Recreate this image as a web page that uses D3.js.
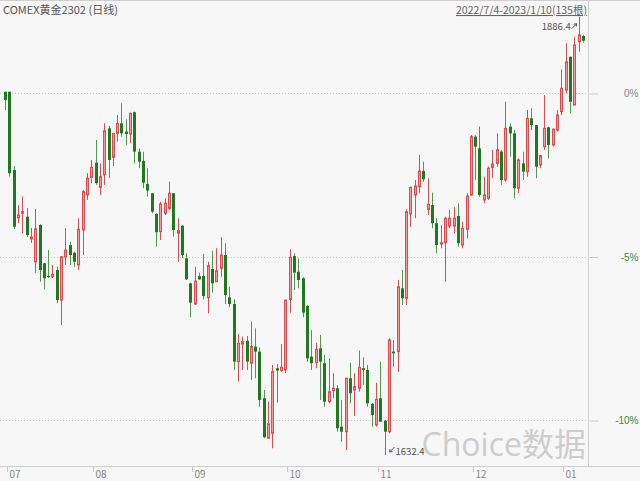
<!DOCTYPE html>
<html><head><meta charset="utf-8">
<script src="https://cdn.jsdelivr.net/npm/d3@7"></script>
<style>
body{margin:0;background:#f7f7f7;}
svg{display:block;font-family:"Noto Sans CJK SC","Noto Sans",sans-serif;}
</style>
</head><body><svg id="c" width="640" height="481"></svg>
<script>
const title = "COMEX黄金2302 (日线)";
const rangeText = "2022/7/4-2023/1/10(135根)";
const opens = [
1842.9,1842.9,1797.6,1769.8,1772.5,1770.5,1757.6,1744.3,1765.7,1743.5,
1736.1,1735.7,1739.6,1722.2,1747.3,1754.1,1749.6,1742.5,1762.8,1783.1,
1793.3,1801.8,1787.5,1794.7,1821.7,1804.9,1818.8,1824.6,1819.8,1818.4,
1831.0,1808.2,1802.8,1789.5,1784.1,1772.1,1761.8,1772.5,1775.4,1784.1,
1760.9,1765.3,1746.4,1731.9,1719.9,1736.1,1736.1,1723.6,1740.2,1732.8,
1740.6,1748.3,1723.8,1719.9,1686.5,1696.7,1698.6,1685.6,1695.2,1692.3,
1665.3,1642.1,1645.0,1682.7,1681.3,1681.7,1722.6,1747.7,1738.6,1734.8,
1718.8,1689.4,1685.9,1694.2,1685.6,1663.3,1669.7,1671.1,1648.8,1645.9,
1676.9,1670.1,1671.1,1682.7,1681.7,1662.0,1649.8,1665.3,1652.3,1645.9,
1692.3,1692.3,1729.0,1723.2,1772.1,1783.1,1787.9,1797.0,1774.8,1777.3,
1766.7,1754.7,1755.4,1765.1,1765.1,1770.9,1754.1,1763.2,1783.1,1816.9,
1810.1,1780.2,1781.2,1799.1,1801.4,1808.2,1791.8,1822.7,1818.8,1787.0,
1801.4,1796.6,1827.5,1823.6,1800.5,1811.1,1822.3,1812.1,1820.7,1831.4,
1843.9,1863.2,1835.2,1871.9,1875.2];
const highs = [
1842.9,1842.9,1799.9,1777.3,1782.1,1775.5,1764.0,1775.0,1766.1,1743.8,
1751.2,1742.5,1741.5,1747.3,1763.8,1756.0,1750.2,1769.6,1786.0,1795.7,
1803.4,1815.0,1801.4,1824.6,1823.1,1818.8,1829.4,1836.2,1826.9,1830.8,
1831.4,1810.1,1808.2,1798.6,1784.1,1772.5,1779.2,1781.2,1790.8,1784.1,
1769.6,1765.7,1749.3,1732.3,1741.5,1738.1,1748.9,1744.4,1750.8,1752.2,
1758.6,1755.1,1729.9,1722.6,1702.5,1701.0,1701.4,1709.7,1705.8,1694.8,
1670.1,1663.3,1684.6,1685.1,1696.7,1722.2,1751.6,1749.3,1746.4,1735.4,
1719.3,1704.8,1697.5,1702.0,1690.4,1688.4,1679.8,1673.0,1664.3,1676.9,
1685.9,1679.8,1692.9,1689.0,1684.6,1662.4,1674.3,1686.5,1652.7,1700.0,
1699.1,1733.8,1739.6,1774.8,1787.9,1791.8,1806.3,1802.4,1792.8,1784.4,
1769.6,1765.7,1770.5,1774.4,1776.0,1778.3,1767.6,1784.1,1817.8,1817.8,
1822.7,1793.7,1799.5,1809.2,1818.8,1809.2,1837.1,1824.6,1820.7,1804.3,
1808.2,1832.3,1833.3,1823.6,1806.3,1841.0,1822.7,1821.7,1832.3,1855.9,
1871.0,1863.2,1874.8,1886.4,1875.8];
const lows = [
1832.3,1793.7,1763.4,1766.9,1760.9,1758.7,1755.3,1737.9,1732.8,1728.4,
1735.0,1735.0,1720.3,1707.7,1742.5,1742.5,1741.5,1739.6,1748.3,1780.2,
1789.9,1788.9,1783.1,1788.9,1792.9,1799.9,1814.0,1816.9,1812.1,1813.0,
1801.4,1798.6,1787.0,1782.1,1772.5,1753.1,1757.0,1771.5,1774.4,1758.9,
1744.4,1746.4,1733.8,1712.2,1719.3,1733.8,1722.6,1714.5,1726.5,1732.8,
1735.7,1719.9,1718.0,1681.7,1674.9,1681.7,1681.7,1675.9,1676.9,1660.4,
1642.1,1642.1,1636.3,1662.7,1680.7,1679.8,1714.9,1728.0,1729.0,1712.2,
1686.5,1681.7,1682.7,1664.3,1660.4,1662.4,1665.3,1645.9,1640.1,1635.3,
1662.4,1655.0,1669.1,1673.0,1660.4,1648.8,1648.8,1651.7,1632.4,1645.0,
1683.6,1680.7,1719.3,1719.3,1764.7,1769.6,1784.1,1790.8,1771.5,1763.8,
1749.3,1752.2,1732.8,1763.8,1760.9,1753.1,1752.2,1758.0,1782.5,1791.8,
1782.1,1778.3,1780.2,1792.8,1799.5,1788.9,1790.8,1805.3,1781.2,1784.1,
1791.8,1793.7,1820.7,1792.8,1798.6,1809.2,1804.3,1811.1,1819.8,1829.4,
1842.0,1830.4,1835.2,1866.1,1871.3];
const closes = [
1838.1,1795.7,1764.7,1771.5,1773.4,1759.9,1758.7,1763.4,1739.6,1734.8,
1735.6,1737.1,1722.2,1747.3,1751.2,1748.3,1744.4,1763.2,1785.0,1792.8,
1799.1,1789.9,1793.7,1820.3,1803.4,1818.8,1824.6,1818.8,1818.4,1830.4,
1808.2,1802.4,1790.2,1785.6,1773.4,1761.5,1777.9,1778.3,1784.1,1762.8,
1762.4,1748.3,1734.2,1720.7,1733.2,1734.2,1724.5,1742.1,1731.9,1739.2,
1748.3,1725.1,1719.9,1686.5,1697.1,1698.1,1686.5,1695.2,1692.3,1664.3,
1642.7,1650.4,1680.7,1681.3,1683.2,1722.2,1747.0,1738.1,1733.8,1714.9,
1688.4,1685.6,1693.7,1686.5,1663.3,1669.1,1671.1,1647.9,1645.9,1676.9,
1668.2,1672.0,1683.2,1681.7,1662.4,1655.6,1664.7,1651.7,1645.9,1699.1,
1691.3,1729.9,1723.2,1773.4,1787.5,1788.3,1797.0,1792.2,1777.7,1766.7,
1754.1,1755.4,1769.6,1769.6,1769.6,1755.1,1763.8,1782.5,1816.9,1811.1,
1783.1,1783.1,1798.6,1801.0,1809.2,1791.8,1821.7,1818.8,1787.0,1803.4,
1796.6,1827.5,1823.6,1799.5,1805.9,1821.7,1812.1,1821.2,1829.4,1844.9,
1860.3,1837.1,1870.0,1875.8,1872.5];
const monthLabels = ["07","08","09","10","11","12","01"];
const monthStarts = [0,20,43,65,86,108,129];
const pctTicks = [0,-5,-10];
const watermark = "Choice数据";

const W = 640, H = 481;
const svg = d3.select("#c");
const RED = "#e8474c", REDFILL = "#f39a9a", GREEN = "#1f7a1f", GREENWICK = "#4f9a4f";

const data = opens.map((o,i)=>({i, o, h:highs[i], l:lows[i], c:closes[i]}));
const x = d3.scaleLinear().domain([0, data.length-1]).range([5, 583]);
const maxP = d3.max(highs), minP = d3.min(lows);
const y = d3.scaleLinear().domain([minP, maxP]).range([455, 16.7]);
const yPct = d3.scaleLinear().domain([0, -10]).range([93, 420]);

svg.append("rect").attr("width",W).attr("height",H).attr("fill","#f7f7f7");

// frame lines
svg.append("line").attr("x1",0).attr("x2",W).attr("y1",0.5).attr("y2",0.5).attr("stroke","#cfcfcf");
svg.append("line").attr("x1",588.5).attr("x2",588.5).attr("y1",0).attr("y2",466).attr("stroke","#cfcfcf");

// grid lines + right axis
const g = svg.append("g");
pctTicks.forEach(p=>{
  const yy = Math.round(yPct(p))+0.5;
  g.append("line").attr("x1",0).attr("x2",588).attr("y1",yy).attr("y2",yy)
    .attr("stroke","#c8c8c8").attr("stroke-dasharray","1,2");
});
const rAxis = d3.axisRight(yPct).tickValues(pctTicks).tickSize(9).tickPadding(18)
  .tickFormat(d=>d+"%");
const ra = svg.append("g").attr("transform","translate(589.5,0.5)").call(rAxis);
ra.select(".domain").remove();
ra.selectAll(".tick line").attr("stroke","#c8c8c8");
ra.selectAll(".tick text").attr("font-size",10).attr("text-anchor","end").attr("x",49)
  .attr("fill",d=>d<0?"#3d8a3d":"#888");

// watermark (drawn behind the axis labels)
svg.append("text").attr("x",586).attr("y",456).attr("text-anchor","end")
  .attr("font-size",32).attr("fill","#cdcdcd").attr("font-family","'Open Sans','Noto Sans CJK SC',sans-serif")
  .text(watermark);

// bottom axis
svg.append("line").attr("x1",0).attr("x2",W).attr("y1",466.5).attr("y2",466.5).attr("stroke","#cfcfcf");
const xt = svg.append("g");
monthStarts.forEach((s,k)=>{
  const xx = Math.round(x(s)+2)+0.5;
  xt.append("line").attr("x1",xx).attr("x2",xx).attr("y1",467).attr("y2",472).attr("stroke","#c8c8c8");
  xt.append("text").attr("x",xx+2).attr("y",478).attr("font-size",10).attr("fill","#888").text(monthLabels[k]);
});

// candles
const cg = svg.append("g");
const bw = 3;
data.forEach(d=>{
  const up = d.c >= d.o;
  const cx = Math.round(x(d.i));
  cg.append("line").attr("x1",cx+0.5).attr("x2",cx+0.5).attr("y1",y(d.h)).attr("y2",y(d.l))
    .attr("stroke", up?RED:GREENWICK).attr("stroke-width",1);
  const top = y(Math.max(d.o,d.c)), bot = y(Math.min(d.o,d.c));
  const hh = Math.max(1, bot-top);
  if (up) {
    cg.append("rect").attr("x",cx-1+0.5).attr("y",top).attr("width",bw-1).attr("height",hh)
      .attr("fill",REDFILL).attr("stroke",RED).attr("stroke-width",1);
  } else {
    cg.append("rect").attr("x",cx-1).attr("y",top).attr("width",bw).attr("height",hh)
      .attr("fill",GREEN);
  }
});

// high / low annotations
const hiI = highs.indexOf(maxP), loI = lows.indexOf(minP);
const hx = x(hiI), hy = y(maxP);
svg.append("text").attr("x",hx-8).attr("y",hy+13).attr("text-anchor","end")
  .attr("font-size",9.5).attr("fill","#555").text(maxP.toFixed(1));
svg.append("path").attr("d",`M${hx-7},${hy+12} L${hx-2},${hy+7}`).attr("stroke","#555").attr("fill","none");
svg.append("path").attr("d",`M${hx-2},${hy+7} l-3,0.5 M${hx-2},${hy+7} l-0.5,3`).attr("stroke","#555").attr("fill","none");
const lx = x(loI), ly = y(minP);
svg.append("path").attr("d",`M${lx+10},${ly-8} L${lx+5},${ly-3}`).attr("stroke","#555").attr("fill","none");
svg.append("path").attr("d",`M${lx+5},${ly-3} l3,-0.5 M${lx+5},${ly-3} l0.5,-3`).attr("stroke","#555").attr("fill","none");
svg.append("text").attr("x",lx+11).attr("y",ly-0.5)
  .attr("font-size",9.5).attr("fill","#555").text(minP.toFixed(1));

// header
svg.append("text").attr("x",3).attr("y",14).attr("font-size",11).attr("fill","#555").text(title);
svg.append("text").attr("x",587).attr("y",14).attr("text-anchor","end")
  .attr("font-size",10.5).attr("fill","#666").attr("text-decoration","underline").text(rangeText);
</script>
</body></html>
